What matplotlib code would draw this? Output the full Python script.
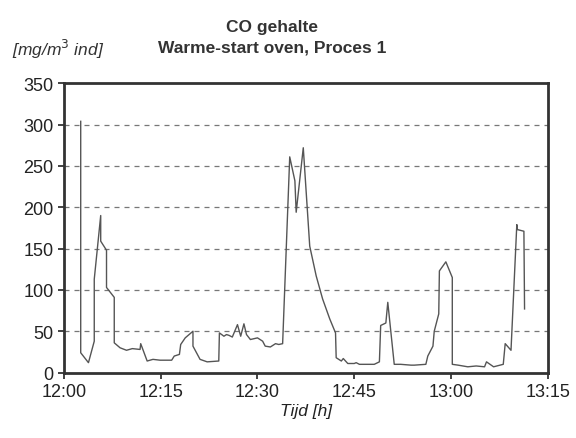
import matplotlib
matplotlib.use('Agg')
import matplotlib.pyplot as plt
import matplotlib.ticker as mticker

plt.rcParams['font.family'] = ['Liberation Sans', 'DejaVu Sans']

# minutes after 12:00 and CO concentration [mg/m3]
minutes = [2.6, 2.6, 3.8, 4.7, 4.7, 5.7, 5.7, 6.6, 6.6, 7.8, 7.8, 8.7, 9.7, 10.6, 11.8,
           11.9, 12.9, 13.8, 14.9, 16.7, 17.1, 17.9, 18.1, 18.8, 20.0, 20.0, 21.1, 22.2,
           24.0, 24.1, 24.8, 25.2, 25.6, 26.1, 26.9, 27.4, 27.9, 28.3, 28.9, 30.0, 30.8,
           31.2, 32.0, 32.8, 33.3, 33.9, 35.0, 35.8, 36.0, 37.1, 38.1, 39.1, 40.1, 41.2,
           42.1, 42.2, 43.0, 43.3, 44.0, 45.0, 45.3, 45.8, 48.1, 48.9, 49.1, 49.9, 50.2,
           51.2, 52.2, 53.8, 54.3, 56.1, 56.4, 57.2, 57.4, 58.1, 58.2, 59.2, 60.2, 60.2,
           61.1, 62.6, 63.9, 65.2, 65.5, 66.6, 68.1, 68.4, 69.3, 70.2, 70.3, 71.3, 71.4]
co = [304, 24, 12, 38, 113, 190, 159, 148, 103, 91, 36, 30, 27, 29, 28,
      35, 14, 16, 15, 15, 20, 22, 34, 42, 50, 32, 16, 13,
      14, 48, 44, 46, 45, 43, 58, 44, 59, 46, 40, 42, 38,
      32, 31, 35, 34, 35, 261, 232, 194, 272, 153, 117, 89, 65,
      48, 18, 14, 17, 11, 11, 12, 10, 10, 13, 57, 60, 85,
      10, 10, 9, 9, 10, 20, 32, 50, 71, 123, 134, 115, 10,
      9, 7, 8, 7, 13, 7, 10, 35, 27, 179, 173, 171, 77]

y_ticks = [0, 50, 100, 150, 200, 250, 300, 350]
x_ticks = [0, 15, 30, 45, 60, 75]
x_labels = ['12:00', '12:15', '12:30', '12:45', '13:00', '13:15']

fig = plt.figure(figsize=(5.76, 4.39), dpi=100)
ax = fig.add_axes([0.111, 0.149, 0.840, 0.659])

ax.plot(minutes, co, color='#555555', linewidth=1.0)

ax.set_xlim(0, 75)
ax.set_ylim(0, 350)
ax.set_xticks(x_ticks)
ax.set_xticklabels(x_labels)
ax.set_yticks(y_ticks)
ax.yaxis.set_minor_locator(mticker.NullLocator())

# dashed gridlines between 50 and 300
for v in y_ticks[1:-1]:
    ax.axhline(v, color='#777777', linestyle=(0, (4, 4)), linewidth=0.9, zorder=0)

for side in ax.spines.values():
    side.set_linewidth(2.0)
    side.set_color('#333333')
ax.tick_params(axis='both', labelsize=13, colors='#222222', length=4, width=1.2)

ax.set_xlabel('Tijd [h]', fontsize=12.5, fontstyle='italic', color='#222222', labelpad=2)

fig.text(0.472, 0.938, 'CO gehalte', ha='center', va='center', fontsize=12.5,
         fontweight='bold', color='#333333')
fig.text(0.472, 0.891, 'Warme-start oven, Proces 1', ha='center', va='center',
         fontsize=12.5, fontweight='bold', color='#333333')
fig.text(0.02, 0.888, '[mg/m$^3$ ind]', ha='left', va='center', fontsize=12.5,
         fontstyle='italic', color='#333333')

plt.savefig('out.png', dpi=100)
